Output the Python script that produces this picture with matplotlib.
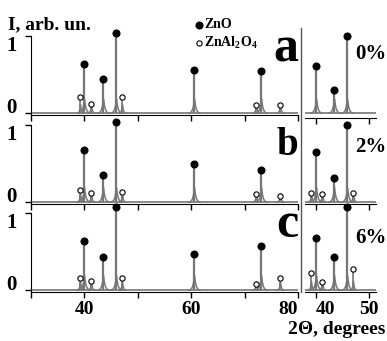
import numpy as np
import matplotlib
matplotlib.use('Agg')
import matplotlib.pyplot as plt
from matplotlib.path import Path
from matplotlib.lines import Line2D
from matplotlib import transforms

plt.rcParams['font.family'] = ['Liberation Serif', 'DejaVu Serif']
plt.rcParams['font.weight'] = 'bold'
plt.rcParams['mathtext.fontset'] = 'custom'
plt.rcParams['mathtext.rm'] = 'Liberation Serif:bold'
plt.rcParams['mathtext.default'] = 'rm'

# peak positions (2theta)
zno_pos = [40.0, 43.4, 46.0, 60.6, 73.0]
spinel_pos = [39.1, 41.3, 47.0, 72.1, 76.6]

# peak tops, full range (left)
zno_a = [0.59, 0.40, 1.00, 0.51, 0.50]
spinel_a = [0.17, 0.08, 0.17, 0.07, 0.07]
zno_b = [0.63, 0.30, 1.00, 0.45, 0.37]
spinel_b = [0.12, 0.09, 0.10, 0.07, 0.04]
zno_c = [0.59, 0.38, 1.03, 0.42, 0.52]
spinel_c = [0.12, 0.09, 0.12, 0.05, 0.12]

# zoomed traces 38-51 (right)
zno_a_zoom = [0.57, 0.25, 0.96]
spinel_a_zoom = []
zno_b_zoom = [0.60, 0.27, 0.96]
spinel_b_zoom = [0.09, 0.07, 0.08]
zno_c_zoom = [0.63, 0.38, 1.03]
spinel_c_zoom = [0.19, 0.07, 0.24]

letters = ['a', 'b', 'c']
percents = ['0%', '2%', '6%']

W, H = 387, 341
grey = '#767676'

# skirt of a diffraction peak, drawn as a marker
skirt = Path([(-1, 0), (-0.7, 0.12), (-0.5, 0.3), (-0.32, 0.65), (-0.2, 1.1),
              (-0.1, 1.7), (0, 2.4), (0.1, 1.7), (0.2, 1.1), (0.32, 0.65),
              (0.5, 0.3), (0.7, 0.12), (1, 0)])

fig = plt.figure(figsize=(W / 100, H / 100), dpi=100)


def px_axes(x0, x1, base, ylo=-0.03, yhi=1.2, scale=77.0):
    bottom = base - ylo * scale
    top = bottom - (yhi - ylo) * scale
    ax = fig.add_axes([x0 / W, 1 - bottom / H, (x1 - x0) / W, (bottom - top) / H])
    ax.set_ylim(ylo, yhi)
    ax.patch.set_alpha(0)
    return ax


def draw_trace(ax, zno_h, sp_h):
    n, m = len(zno_h), len(sp_h)
    up = transforms.offset_copy(ax.transData, fig=fig, y=3.5, units='dots')
    up_s = transforms.offset_copy(ax.transData, fig=fig, y=2.5, units='dots')
    ax.axhline(0, color=grey, lw=1.2, zorder=1)
    ax.vlines(zno_pos[:n], 0, zno_h, color=grey, lw=1.6, zorder=2)
    ax.plot(zno_pos[:n], [0] * n, ls='none', marker=skirt, ms=21, mfc='none',
            mec=grey, mew=1.1, zorder=2)
    if m:
        ax.vlines(spinel_pos[:m], 0, sp_h, color=grey, lw=1.2, zorder=2)
        ax.plot(spinel_pos[:m], [0] * m, ls='none', marker=skirt, ms=13, mfc='none',
                mec=grey, mew=1.0, zorder=2)
        ax.plot(spinel_pos[:m], sp_h, ls='none', marker='o', ms=3.8, mfc='white',
                mec='black', mew=0.8, transform=up_s, clip_on=False, zorder=4)
    ax.plot(zno_pos[:n], zno_h, ls='none', marker='o', ms=4.8, color='black',
            transform=up, clip_on=False, zorder=4)


bases = [113, 202, 290]
left_data = [(zno_a, spinel_a), (zno_b, spinel_b), (zno_c, spinel_c)]
right_data = [(zno_a_zoom, spinel_a_zoom), (zno_b_zoom, spinel_b_zoom),
              (zno_c_zoom, spinel_c_zoom)]

for i in range(3):
    last = i == 2
    # full range
    ax = px_axes(31, 298, bases[i])
    ax.set_xlim(30, 80)
    draw_trace(ax, *left_data[i])
    for s in ['top', 'right']:
        ax.spines[s].set_visible(False)
    ax.spines['left'].set_bounds(-0.03, 1)
    ax.set_yticks([0, 1])
    ax.set_yticklabels(['0', '1'], fontsize=15)
    ylab = ax.get_yticklabels()
    ylab[0].set_va('baseline')
    ylab[1].set_va('top')
    ax.set_xticks([40, 60, 80])
    ax.set_xticks([30, 50, 70], minor=True)
    ax.tick_params(axis='both', which='both', direction='out', length=4, width=1, pad=2)
    ax.tick_params(axis='y', pad=6)
    if last:
        ax.set_xticklabels(['40', '60', '80'], fontsize=14)
        ax.get_xticklabels()[2].set_ha('right')
    else:
        ax.set_xticklabels([])

    # zoomed range
    axr = px_axes(305, 376, bases[i], ylo=-0.06 if i == 0 else -0.03)
    axr.set_xlim(38, 51.4)
    draw_trace(axr, *right_data[i])
    for s in ['top', 'right', 'left']:
        axr.spines[s].set_visible(False)
    axr.set_yticks([])
    axr.set_xticks([40, 50])
    axr.tick_params(axis='x', direction='out', length=4, width=1, pad=2)
    if last:
        axr.set_xticklabels(['40', '50'], fontsize=14)
        axr.get_xticklabels()[0].set_ha('left')
    else:
        axr.set_xticklabels([])

# separator between the two ranges
fig.add_artist(Line2D([301 / W, 301 / W], [1 - 28 / H, 1 - 292 / H],
                      transform=fig.transFigure, color='#555555', lw=1))

# panel letters and Al content
fig.text(298 / W, 1 - 61 / H, 'a', fontsize=36, ha='right', va='baseline')
fig.text(298 / W, 1 - 155 / H, 'b', fontsize=28, ha='right', va='baseline')
fig.text(298 / W, 1 - 237 / H, 'c', fontsize=36, ha='right', va='baseline')
for txt, yb in zip(percents, [59, 152, 243]):
    fig.text(355 / W, 1 - yb / H, txt, fontsize=15, ha='left', va='baseline')

# legend
fig.add_artist(Line2D([199 / W], [1 - 25 / H], transform=fig.transFigure,
                      marker='o', ms=4.8, color='black', ls='none'))
fig.add_artist(Line2D([199 / W], [1 - 43 / H], transform=fig.transFigure,
                      marker='o', ms=3.8, mfc='white', mec='black', mew=0.8, ls='none'))
fig.text(204 / W, 1 - 25 / H, 'ZnO', fontsize=10, va='center')
fig.text(204 / W, 1 - 43 / H, r'ZnAl$_2$O$_4$', fontsize=10, va='center')

fig.text(8 / W, 1 - 29 / H, 'I, arb. un.', fontsize=14, va='baseline')
fig.text(385 / W, 1 - 334 / H, '2\u0398, degrees', fontsize=14, ha='right', va='baseline')

fig.savefig('out.png', dpi=100)
